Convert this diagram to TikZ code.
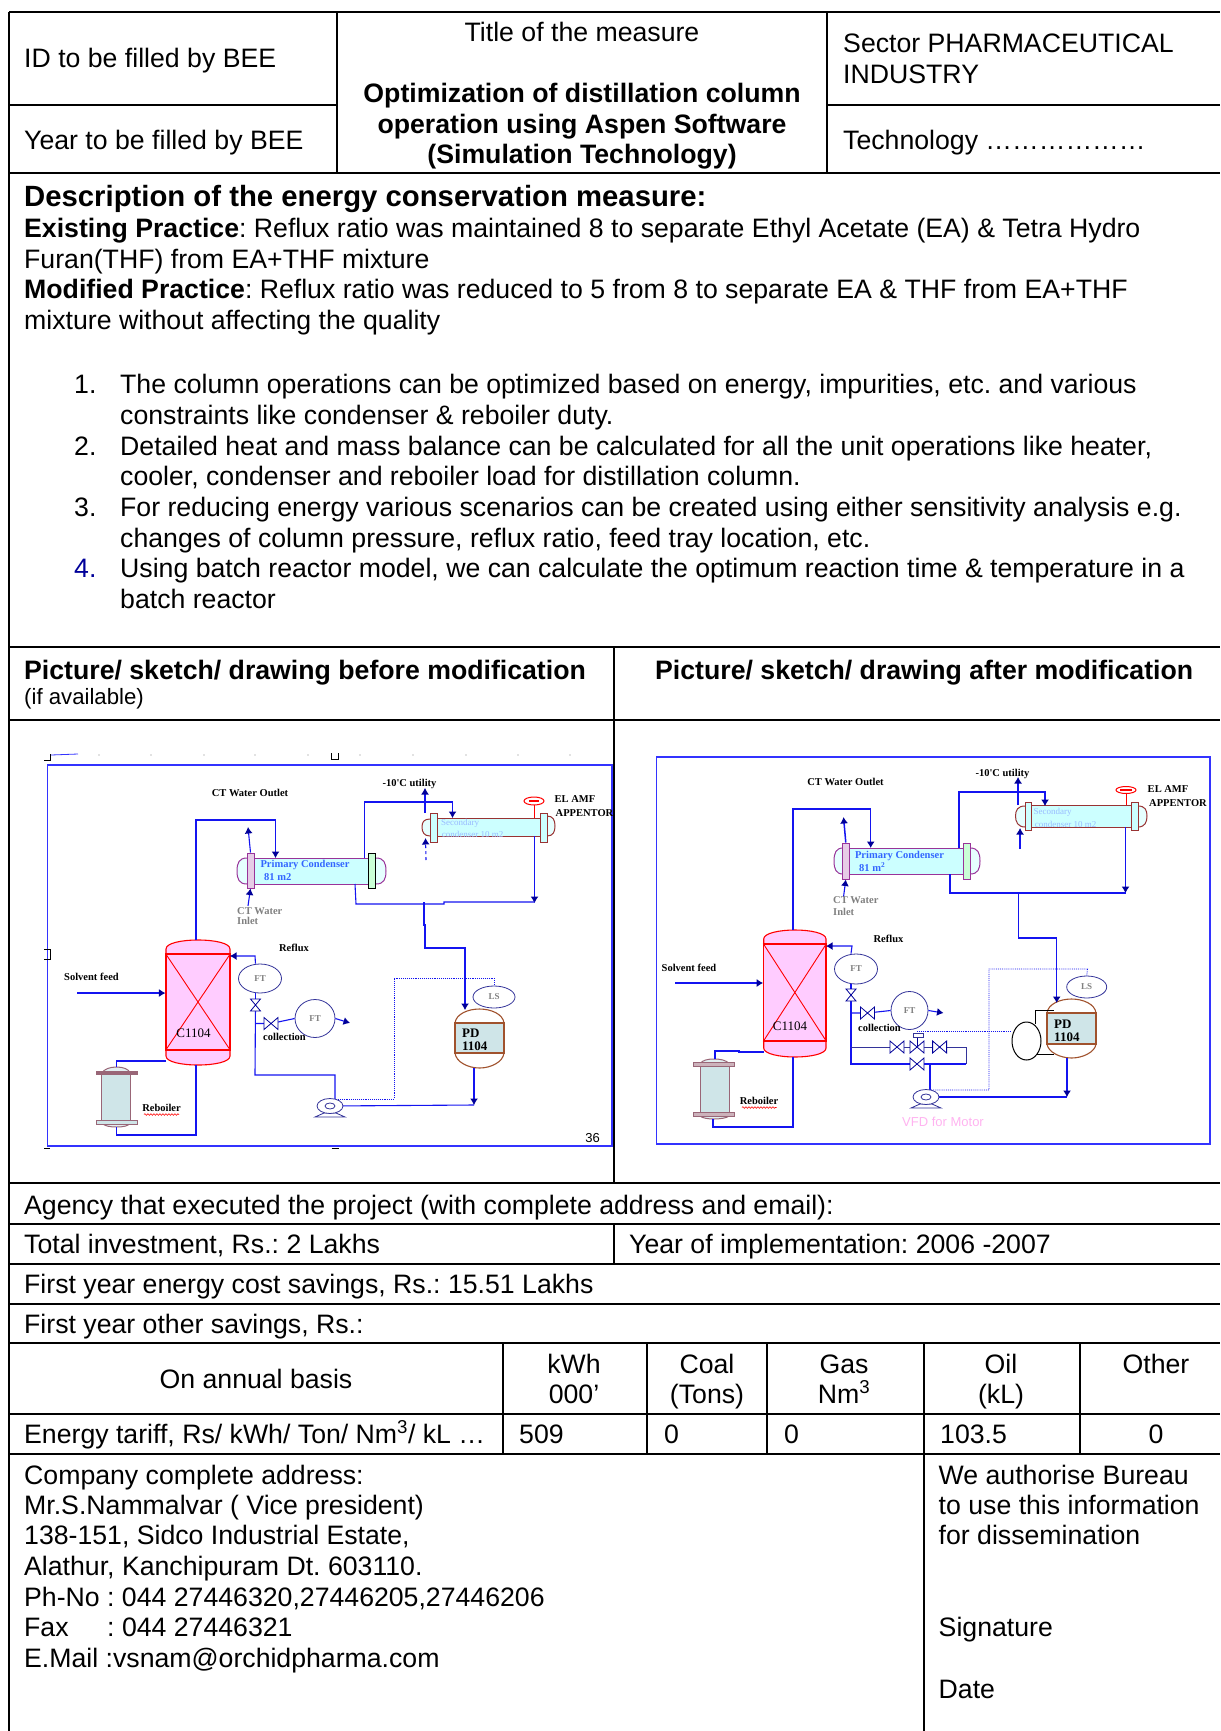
\documentclass[tikz,border=0pt]{standalone}
\usepackage{fontspec}
\usepackage{xcolor}
\usetikzlibrary{arrows.meta,shapes.geometric,decorations.pathmorphing}
\setmainfont{Liberation Sans}
\newfontfamily\skfont{Liberation Serif}

\definecolor{frameblue}{HTML}{3333FF}
\definecolor{pipeblue}{HTML}{1414F0}
\definecolor{tipnavy}{HTML}{000099}
\definecolor{linenavy}{HTML}{333399}
\definecolor{colpink}{HTML}{FFCCFF}
\definecolor{cndcyan}{HTML}{CCFFFF}
\definecolor{cndpurple}{HTML}{993399}
\definecolor{cndred}{HTML}{993333}
\definecolor{drumfill}{HTML}{CFE5E8}
\definecolor{drumbrown}{HTML}{A0522D}
\definecolor{rebmauve}{HTML}{996677}
\definecolor{labelblue}{HTML}{3366FF}
\definecolor{labelpale}{HTML}{99BBFF}
\definecolor{vfdpink}{HTML}{FFB3F0}

\tikzset{
  gridline/.style={line width=1.8pt,black},
  cellt/.style={font=\fontsize{26.67}{30.67}\selectfont\frenchspacing,inner sep=0pt,anchor=base west},
  cellc/.style={cellt,anchor=base},
  cellb/.style={cellt,font=\fontsize{26.67}{30.67}\selectfont\bfseries\frenchspacing},
  cellbc/.style={cellb,anchor=base},
  sktxt/.style={font=\skfont\bfseries\fontsize{10.5}{12}\selectfont,inner sep=0pt},
  skgrey/.style={sktxt,text=gray},
  skframe/.style={draw=frameblue,line width=1.2pt},
  pipe/.style={draw=pipeblue,line width=1.1pt},
  pipearrow/.style={pipe,-{Latex[length=6.5pt,width=8pt,color=tipnavy]}},
  dotline/.style={draw=pipeblue,line width=0.9pt,densely dotted},
  colwall/.style={draw=red,line width=1.1pt,fill=colpink},
  colbody/.style={rectangle,colwall,inner sep=0pt,minimum width=64pt},
  drumwall/.style={draw=drumbrown,line width=1.1pt,fill=white},
  drumbody/.style={rectangle,draw=drumbrown,line width=1.1pt,fill=drumfill,inner sep=0pt,minimum width=49pt},
  instr/.style={ellipse,draw=linenavy,line width=0.8pt,fill=white,inner sep=0pt,font=\skfont\bfseries\fontsize{9}{10}\selectfont,text=gray},
  valveline/.style={draw=tipnavy,line width=0.8pt,fill=white},
  valveh/.pic={\draw[valveline] (-7,-6) -- (7,6) -- (7,-6) -- (-7,6) -- cycle;},
  valvev/.pic={\draw[valveline] (-5,-6) -- (5,-6) -- (-5,6) -- (5,6) -- cycle;},
  skpump/.pic={
    \draw[draw=linenavy,line width=0.8pt,fill=white] (-6,7) -- (-15,11) -- (15,11) -- (6,7) -- cycle;
    \draw[draw=linenavy,line width=0.8pt,fill=white] (0,0) ellipse (13pt and 7.5pt);
    \draw[draw=linenavy,line width=0.8pt] (0,0) ellipse (5pt and 3pt);
  }
}

\begin{document}
\begin{tikzpicture}[x=1pt,y=-1pt]
\useasboundingbox (0,0) rectangle (1220,1731);

% Form grid
\draw[gridline] (9,12) -- (1220,12);
\draw[gridline] (9,105) -- (337,105);
\draw[gridline] (827,105) -- (1220,105);
\draw[gridline] (9,173) -- (1220,173);
\draw[gridline] (9,647) -- (1220,647);
\draw[gridline] (9,720) -- (1220,720);
\draw[gridline] (9,1183) -- (1220,1183);
\draw[gridline] (9,1224) -- (1220,1224);
\draw[gridline] (9,1264) -- (1220,1264);
\draw[gridline] (9,1304) -- (1220,1304);
\draw[gridline] (9,1343) -- (1220,1343);
\draw[gridline] (9,1414) -- (1220,1414);
\draw[gridline] (9,1454) -- (1220,1454);
\draw[gridline] (9,12) -- (9,1731);
\draw[gridline] (337,12) -- (337,173);
\draw[gridline] (827,12) -- (827,173);
\draw[gridline] (614,647) -- (614,1183);
\draw[gridline] (614,1224) -- (614,1264);
\draw[gridline] (503,1343) -- (503,1454);
\draw[gridline] (647,1343) -- (647,1454);
\draw[gridline] (767,1343) -- (767,1454);
\draw[gridline] (924,1343) -- (924,1731);
\draw[gridline] (1080,1343) -- (1080,1454);

% Header cells
\node[cellt] (idcell) at (24,68) {ID to be filled by BEE};
\node[cellt] (yearcell) at (24,150) {Year to be filled by BEE};
\node[cellc] (titlehead) at (582,42) {Title of the measure};
\node[cellbc] (titlea) at (582,103) {Optimization of distillation column};
\node[cellbc] (titleb) at (582,134) {operation using Aspen Software};
\node[cellbc] (titlec) at (582,164) {(Simulation Technology)};
\node[cellt] (sectora) at (843,53) {Sector PHARMACEUTICAL};
\node[cellt] (sectorb) at (843,84) {INDUSTRY};
\node[cellt] (techcell) at (843,150) {Technology ………………};

% Description
\node[cellb,font=\fontsize{29.3}{33}\selectfont\bfseries] (deschead) at (24,207) {Description of the energy conservation measure:};
\node[cellt] (exista) at (24,237) {\textbf{Existing Practice}: Reflux ratio was maintained 8 to separate Ethyl Acetate (EA) \& Tetra Hydro};
\node[cellt] (existb) at (24,268) {Furan(THF) from EA+THF mixture};
\node[cellt] (moda) at (24,298) {\textbf{Modified Practice}: Reflux ratio was reduced to 5 from 8 to separate EA \& THF from EA+THF};
\node[cellt] (modb) at (24,329) {mixture without affecting the quality};

% Numbered list
\node[cellt] (numa) at (74,393) {1.};
\node[cellt] (itema) at (120,393) {The column operations can be optimized based on energy, impurities, etc. and various};
\node[cellt] (itemab) at (120,424) {constraints like condenser \& reboiler duty.};
\node[cellt] (numb) at (74,455) {2.};
\node[cellt] (itemb) at (120,455) {Detailed heat and mass balance can be calculated for all the unit operations like heater,};
\node[cellt] (itembb) at (120,485.5) {cooler, condenser and reboiler load for distillation column.};
\node[cellt] (numc) at (74,516) {3.};
\node[cellt] (itemc) at (120,516) {For reducing energy various scenarios can be created using either sensitivity analysis e.g.};
\node[cellt] (itemcb) at (120,547) {changes of column pressure, reflux ratio, feed tray location, etc.};
\node[cellt,text=tipnavy] (numd) at (74,577) {4.};
\node[cellt] (itemd) at (120,577) {Using batch reactor model, we can calculate the optimum reaction time \& temperature in a};
\node[cellt] (itemdb) at (120,608) {batch reactor};

% Sketch headers
\node[cellb] (beforehead) at (24,679) {Picture/ sketch/ drawing before modification};
\node[cellt,font=\fontsize{22.2}{25}\selectfont] (ifavail) at (24,704) {(if available)};
\node[cellb] (afterhead) at (655,679) {Picture/ sketch/ drawing after modification};

% Left sketch: frame and handles
\draw[skframe] (47.5,765) rectangle (612,1146);
\draw[black,line width=1pt] (44,760) -- (50,760) -- (50,754);
\draw[black,line width=1pt] (331.5,753) -- (331.5,759.5) -- (338.5,759.5) -- (338.5,753);
\draw[black,line width=1pt] (44,949) -- (50,949) -- (50,959) -- (44,959);
\draw[black,line width=1pt] (44,1148) -- (50,1148);
\draw[black,line width=1pt] (331.5,1148) -- (338.5,1148);
\draw[frameblue,line width=0.8pt] (51,755) -- (78,754);
\fill[gray] (99,755) circle (.7) (151,755) circle (.7) (204,755) circle (.7) (255,755) circle (.7) (308,755) circle (.7) (360,755) circle (.7) (413,755) circle (.7) (466,755) circle (.7) (518,755) circle (.7) (570,755) circle (.7);

% Left sketch: column
\draw[colwall] (166,954) -- (166,949) .. controls (166,943) and (182,940) .. (198,940) .. controls (214,940) and (230,943) .. (230,949) -- (230,954) -- cycle;
\draw[colwall] (166,1050) -- (166,1056) .. controls (166,1062) and (182,1065) .. (198,1065) .. controls (214,1065) and (230,1062) .. (230,1056) -- (230,1050) -- cycle;
\node[colbody,minimum height=96pt] (columna) at (198,1002) {};
\draw[red,line width=0.9pt] (columna.north west) -- (columna.south east);
\draw[red,line width=0.9pt] (columna.north east) -- (columna.south west);
\node[font=\skfont\fontsize{13}{16}\selectfont,inner sep=0pt] (columnalbl) at (193.5,1033) {C1104};

% Left sketch: primary condenser
\draw[draw=cndpurple,line width=1pt,fill=cndcyan!50] (247,858) .. controls (239,858) and (237,863) .. (237,871) .. controls (237,879) and (239,884) .. (247,884);
\draw[draw=cndpurple,line width=1pt,fill=cndcyan!50] (376,858) .. controls (384,858) and (386,863) .. (386,871) .. controls (386,879) and (384,884) .. (376,884);
\node[rectangle,draw=cndpurple,line width=1pt,fill=cndcyan,inner sep=0pt,minimum width=118pt,minimum height=26pt] (primarya) at (311,871) {};
\node[rectangle,draw=cndpurple,line width=1pt,fill=cndpurple!25,inner sep=0pt,minimum width=7pt,minimum height=35pt] (prflanga) at (250.5,870.5) {};
\node[rectangle,draw=black,line width=1pt,fill=cndcyan!60!green!40,inner sep=0pt,minimum width=7pt,minimum height=35pt] (prflangb) at (372,870.5) {};
\node[sktxt,text=labelblue] (primlbla) at (305,865) {Primary Condenser};
\node[sktxt,text=labelblue,anchor=west] (primlblb) at (264,877) {81 m2};

% Left sketch: secondary condenser
\draw[draw=cndred,line width=1pt,fill=cndcyan!50] (430,819) .. controls (424,819) and (422,822) .. (422,827) .. controls (422,832) and (424,836) .. (430,836);
\draw[draw=cndred,line width=1pt,fill=cndcyan!50] (547,816) .. controls (553,816) and (555,820) .. (555,826) .. controls (555,832) and (553,836) .. (547,836);
\node[rectangle,draw=cndred,line width=1pt,fill=cndcyan,inner sep=0pt,minimum width=105pt,minimum height=18pt] (seconda) at (489,827) {};
\node[rectangle,draw=cndred,line width=1pt,fill=cndcyan,inner sep=0pt,minimum width=7pt,minimum height=29pt] (seflanga) at (434,827.5) {};
\node[rectangle,draw=cndred,line width=1pt,fill=cndcyan,inner sep=0pt,minimum width=7pt,minimum height=29pt] (seflangb) at (543.5,827.5) {};
\node[sktxt,text=labelpale,font=\skfont\fontsize{9}{10}\selectfont] (seclbla) at (460,823) {Secondary};
\node[sktxt,text=labelpale,font=\skfont\fontsize{9}{10}\selectfont] (seclblb) at (472.5,834) {condenser 10 m2};
\draw[red,line width=1pt] (534,803) -- (534,818);
\node[ellipse,draw=red,line width=1pt,fill=white,inner sep=0pt,minimum width=20pt,minimum height=8pt] (ventva) at (534,801) {};
\draw[red,line width=1.5pt] (529,801) -- (539,801);

% Left sketch: reflux drum
\draw[drumwall] (455,1023) .. controls (456,1014) and (468,1009) .. (479.5,1009) .. controls (491,1009) and (503,1014) .. (504,1023) -- cycle;
\draw[drumwall] (455,1053) .. controls (456,1062) and (468,1068) .. (479.5,1068) .. controls (491,1068) and (503,1062) .. (504,1053) -- cycle;
\node[drumbody,minimum height=30pt] (druma) at (479.5,1038) {};
\node[font=\skfont\bfseries\fontsize{13}{15}\selectfont,inner sep=0pt,anchor=west] (drumlbla) at (462,1033) {PD};
\node[font=\skfont\bfseries\fontsize{13}{15}\selectfont,inner sep=0pt,anchor=west] (drumlblb) at (462,1046) {1104};

% Left sketch: reboiler
\draw[draw=rebmauve,line width=1pt,fill=drumfill!60] (102,1073) .. controls (104,1069) and (110,1067) .. (116.5,1067) .. controls (123,1067) and (129,1069) .. (130,1073) -- cycle;
\draw[draw=rebmauve,line width=1pt,fill=drumfill!60] (102,1123) .. controls (104,1126) and (110,1127) .. (116.5,1127) .. controls (123,1127) and (129,1126) .. (130,1123) -- cycle;
\node[rectangle,draw=rebmauve,line width=1pt,fill=drumfill,inner sep=0pt,minimum width=29pt,minimum height=49pt] (reboilera) at (116,1097.5) {};
\node[rectangle,draw=rebmauve,line width=1pt,fill=rebmauve,inner sep=0pt,minimum width=41pt,minimum height=2.5pt] (rebflanga) at (116.5,1073) {};
\node[rectangle,draw=rebmauve,line width=1pt,fill=drumfill,inner sep=0pt,minimum width=41pt,minimum height=4pt] (rebflangb) at (116.5,1122) {};
\node[sktxt] (reblbla) at (161.5,1108) {Reboiler};
\draw[red,line width=0.6pt,decorate,decoration={snake,amplitude=.8pt,segment length=3pt}] (144,1114.5) -- (179,1114.5);

% Left sketch: instruments and pump
\node[instr,minimum width=43pt,minimum height=29pt] (ftaa) at (260,978.5) {FT};
\node[instr,minimum width=40pt,minimum height=38pt] (ftab) at (315,1018.5) {FT};
\node[instr,minimum width=42pt,minimum height=22pt] (lsa) at (494,997) {LS};
\coordinate (pumpa) at (330,1106);
\coordinate (valveaa) at (255.5,1005);
\coordinate (valveab) at (271,1023.5);
\coordinate (feeda) at (77,993);
\coordinate (outa) at (350,1023);
\coordinate (ctouta) at (248,827);
\coordinate (ctina) at (248,906);
\coordinate (utouta) at (425,788);
\coordinate (utina) at (426,860);

% Left sketch: pipes
\draw[pipearrow] (196,940) -- (196,820) -- (275.5,820) -- (275.5,858);
\draw[pipearrow] (prflanga.north) -- (ctouta);
\draw[pipearrow] (ctina) -- (prflanga.south);
\draw[pipearrow] (364.5,858) -- (364.5,802) -- (452.5,802) -- (452.5,818);
\draw[pipearrow] (425,813) -- (utouta);
\draw[pipearrow,dashed] (utina) -- (425.5,838);
\draw[pipearrow] (534.5,836) -- (534.5,903);
\draw[pipe] (534.5,902) -- (444,902) -- (444,904) -- (356,904) -- (355,884);
\draw[pipearrow] (424,902) -- (424,925) -- (425,925) -- (425,948) -- (465,948) -- (465,1010);
\draw[pipearrow] (feeda) -- (columna.west |- feeda);
\draw[pipe] (166,1061) -- (116.5,1061) -- (116.5,1067);
\draw[pipe] (196,1065) -- (196,1135) -- (116.5,1135) -- (116.5,1127);
\draw[pipearrow] (ftaa.north -| valveaa) -- (255,956) -- (230,956);
\draw[pipe] (ftaa.south -| valveaa) -- (valveaa);
\draw[pipe] (valveaa) -- (255,1075) -- (335,1075) -- (335,1099);
\draw[pipe] (255,1023.5) -- (valveab) -- (ftab.west);
\draw[pipearrow] (ftab.east) -- (outa);
\draw[pipe] (pumpa) -- (474,1105);
\draw[pipearrow] (474,1068) -- (474,1105);
\draw[dotline] (336,1099) -- (394,1099) -- (394,978) -- (494,978) -- (lsa.north);
\pic at (valveaa) {valvev};
\pic at (valveab) {valveh};
\pic at (pumpa) {skpump};

% Left sketch: labels
\node[sktxt] (ctoutlbla) at (250,793) {CT Water Outlet};
\node[sktxt] (utillbla) at (409.5,784) {-10'C utility};
\node[sktxt] (amflbla) at (575,799) {EL AMF};
\node[sktxt] (applbla) at (584.5,813) {APPENTOR};
\node[skgrey,anchor=west] (ctinlbla) at (237,911) {CT Water};
\node[skgrey,anchor=west] (ctinlblb) at (237,921) {Inlet};
\node[sktxt] (reflbla) at (294,948) {Reflux};
\node[sktxt] (feedlbla) at (91.5,977) {Solvent feed};
\node[sktxt] (collbla) at (284.5,1037) {collection};
\node[font=\fontsize{13}{15}\selectfont,inner sep=0pt] (pagenum) at (592.5,1138) {36};

% Right sketch: frame
\draw[skframe] (656.7,757) rectangle (1210,1144);

% Right sketch: column
\draw[colwall] (763.7,944) -- (763.7,939) .. controls (763.7,933) and (780,930) .. (795,930) .. controls (810,930) and (826,933) .. (826,939) -- (826,944) -- cycle;
\draw[colwall] (763.7,1041) -- (763.7,1048) .. controls (763.7,1054) and (780,1057) .. (795,1057) .. controls (810,1057) and (826,1054) .. (826,1048) -- (826,1041) -- cycle;
\node[colbody,minimum width=62.3pt,minimum height=97pt] (columnb) at (794.85,992.5) {};
\draw[red,line width=0.9pt] (columnb.north west) -- (columnb.south east);
\draw[red,line width=0.9pt] (columnb.north east) -- (columnb.south west);
\node[font=\skfont\fontsize{13}{16}\selectfont,inner sep=0pt] (columnblbl) at (790,1026) {C1104};

% Right sketch: primary condenser
\draw[draw=cndpurple,line width=1pt,fill=cndcyan!50] (843,848) .. controls (836,848) and (834,853) .. (834,861) .. controls (834,869) and (836,874) .. (843,874);
\draw[draw=cndpurple,line width=1pt,fill=cndcyan!50] (970,848) .. controls (978,848) and (980,853) .. (980,861) .. controls (980,869) and (978,874) .. (970,874);
\node[rectangle,draw=cndpurple,line width=1pt,fill=cndcyan,inner sep=0pt,minimum width=115pt,minimum height=26pt] (primaryb) at (906.5,861) {};
\node[rectangle,draw=cndpurple,line width=1pt,fill=cndpurple!25,inner sep=0pt,minimum width=6.5pt,minimum height=36pt] (prflangc) at (845.8,861) {};
\node[rectangle,draw=cndpurple,line width=1pt,fill=cndcyan!60!green!40,inner sep=0pt,minimum width=7pt,minimum height=36pt] (prflangd) at (966.5,861) {};
\node[sktxt,text=labelblue] (primlblc) at (899.5,856) {Primary Condenser};
\node[sktxt,text=labelblue,anchor=west] (primlbld) at (859,867) {81 m\textsuperscript{2}};

% Right sketch: secondary condenser
\draw[draw=cndred,line width=1pt,fill=cndcyan!50] (1025,806) .. controls (1018,806) and (1015.5,810) .. (1015.5,816) .. controls (1015.5,822) and (1018,827) .. (1025,827);
\draw[draw=cndred,line width=1pt,fill=cndcyan!50] (1138,806) .. controls (1145,806) and (1147,810) .. (1147,816) .. controls (1147,822) and (1145,827) .. (1138,827);
\node[rectangle,draw=cndred,line width=1pt,fill=cndcyan,inner sep=0pt,minimum width=102pt,minimum height=22pt] (secondb) at (1081,816) {};
\node[rectangle,draw=cndred,line width=1pt,fill=cndcyan,inner sep=0pt,minimum width=6pt,minimum height=28pt] (seflangc) at (1028,816) {};
\node[rectangle,draw=cndred,line width=1pt,fill=cndcyan,inner sep=0pt,minimum width=7pt,minimum height=28pt] (seflangd) at (1134.5,816) {};
\node[sktxt,text=labelpale,font=\skfont\fontsize{9}{10}\selectfont] (seclblc) at (1052.5,812) {Secondary};
\node[sktxt,text=labelpale,font=\skfont\fontsize{9}{10}\selectfont] (seclbld) at (1065.5,824) {condenser 10 m2};
\draw[red,line width=1pt] (1126,792) -- (1126,805);
\node[ellipse,draw=red,line width=1pt,fill=white,inner sep=0pt,minimum width=20pt,minimum height=7pt] (ventvb) at (1126,790) {};
\draw[red,line width=2.5pt] (1120,790) -- (1132,790);

% Right sketch: reflux drum and level vessel
\draw[drumwall] (1047,1013) .. controls (1048,1004) and (1060,999) .. (1071.5,999) .. controls (1083,999) and (1095,1004) .. (1096,1013) -- cycle;
\draw[drumwall] (1047,1044) .. controls (1048,1052) and (1060,1058) .. (1071.5,1058) .. controls (1083,1058) and (1095,1052) .. (1096,1044) -- cycle;
\node[drumbody,minimum height=31pt] (drumb) at (1071.5,1028.5) {};
\node[font=\skfont\bfseries\fontsize{13}{15}\selectfont,inner sep=0pt,anchor=west] (drumlblc) at (1054,1024) {PD};
\node[font=\skfont\bfseries\fontsize{13}{15}\selectfont,inner sep=0pt,anchor=west] (drumlbld) at (1054,1037) {1104};
\node[ellipse,draw=black,line width=1pt,fill=white,inner sep=0pt,minimum width=29pt,minimum height=38pt] (balloon) at (1026.5,1041) {};
\draw[black,line width=1pt] (1035,1024) -- (1035,1010) -- (1053.5,1010);
\draw[black,line width=1pt] (1036,1054) -- (1053.5,1054);

% Right sketch: reboiler
\draw[draw=rebmauve,line width=1pt,fill=drumfill!60] (700,1064) .. controls (702,1060) and (708,1059) .. (714,1059) .. controls (720,1059) and (727,1060) .. (729,1064) -- cycle;
\draw[draw=rebmauve,line width=1pt,fill=drumfill!60] (700,1116) .. controls (702,1118) and (708,1119) .. (714,1119) .. controls (720,1119) and (727,1118) .. (729,1116) -- cycle;
\node[rectangle,draw=rebmauve,line width=1pt,fill=drumfill,inner sep=0pt,minimum width=29pt,minimum height=52pt] (reboilerb) at (714.5,1090) {};
\node[rectangle,draw=rebmauve,line width=1pt,fill=rebmauve!50,inner sep=0pt,minimum width=41pt,minimum height=3.5pt] (rebflangc) at (713.5,1064.5) {};
\node[rectangle,draw=rebmauve,line width=1pt,fill=rebmauve!50,inner sep=0pt,minimum width=41pt,minimum height=3.5pt] (rebflangd) at (713.5,1114.5) {};
\node[sktxt] (reblblb) at (759,1101) {Reboiler};
\draw[red,line width=0.6pt,decorate,decoration={snake,amplitude=.8pt,segment length=3pt}] (742,1107.5) -- (776.5,1107.5);

% Right sketch: instruments and pump
\node[instr,minimum width=43pt,minimum height=30pt] (ftba) at (856,969) {FT};
\node[instr,minimum width=37pt,minimum height=38pt] (ftbb) at (909.5,1010.5) {FT};
\node[instr,minimum width=40pt,minimum height=22pt] (lsb) at (1086.7,987) {LS};
\coordinate (pumpb) at (926,1097);
\coordinate (valveba) at (851,995);
\coordinate (valvebb) at (867.5,1013);
\coordinate (valvebc) at (897,1047);
\coordinate (valvebd) at (917,1047);
\coordinate (valvebe) at (939.6,1047);
\coordinate (valvebf) at (917,1064);
\coordinate (feedb) at (675,983);
\coordinate (outb) at (943.5,1013);
\coordinate (ctoutb) at (843.5,817);
\coordinate (ctinb) at (843.5,897);
\coordinate (utoutb) at (1018,777);
\coordinate (utinb) at (1020,849);

% Right sketch: pipes
\draw[pipearrow] (793,930) -- (793,809) -- (870.7,809) -- (870.7,848);
\draw[pipearrow,line width=1.5pt] (prflangc.north) -- (ctoutb);
\draw[pipearrow] (ctinb) -- (prflangc.south);
\draw[pipearrow] (959,848) -- (959,792) -- (1045,792) -- (1045,806);
\draw[pipearrow] (1018,805) -- (utoutb);
\draw[pipearrow] (utinb) -- (1020,828);
\draw[pipearrow] (1125.5,827) -- (1125.5,893);
\draw[pipe] (1125.5,893) -- (950,893) -- (950,874);
\draw[pipearrow] (1018.5,893) -- (1018.5,938) -- (1056.7,938) -- (1056.7,1003);
\draw[pipearrow] (feedb) -- (columnb.west |- feedb);
\draw[pipe] (763.7,1052) -- (739,1052) -- (739,1051) -- (715,1051) -- (715,1059);
\draw[pipe] (793,1057) -- (793,1127) -- (713,1127) -- (713,1119);
\draw[pipearrow] (ftba.north -| valveba) -- (852,946) -- (826,946);
\draw[pipe] (ftba.south -| valveba) -- (valveba);
\draw[pipe] (valveba) -- (851,1064) -- (966,1064);
\draw[linenavy,line width=1pt] (966,1064) -- (966,1047) -- (851,1047);
\draw[pipe] (930,1064) -- (930,1090);
\draw[pipe] (851,1013) -- (valvebb) -- (ftbb.west);
\draw[pipearrow] (ftbb.east) -- (outb);
\draw[pipe] (pumpb) -- (1067,1097);
\draw[pipearrow] (1067,1058) -- (1067,1097);
\draw[dotline] (931,1090) -- (989,1090) -- (989,969) -- (1087.5,969) -- (lsb.north);
\draw[dotline] (917,1031) -- (balloon.west |- 917,1031);
\draw[tipnavy,line width=0.8pt] (917,1037) -- (valvebd);
\pic at (valveba) {valvev};
\pic at (valvebb) {valveh};
\pic at (valvebc) {valveh};
\pic at (valvebd) {valveh};
\pic at (valvebe) {valveh};
\pic at (valvebf) {valveh};
\pic at (pumpb) {skpump};
\node[rectangle,draw=linenavy,line width=0.8pt,fill=white,inner sep=0pt,minimum width=10pt,minimum height=4pt] (actuator) at (918,1035) {};

% Right sketch: labels
\node[sktxt] (ctoutlblb) at (845.5,782) {CT Water Outlet};
\node[sktxt] (utillblb) at (1002.5,774) {-10'C utility};
\node[sktxt] (amflblb) at (1168,789) {EL AMF};
\node[sktxt] (applblb) at (1178,803) {APPENTOR};
\node[skgrey,anchor=west] (ctinlblc) at (833,900) {CT Water};
\node[skgrey,anchor=west] (ctinlbld) at (833,912) {Inlet};
\node[sktxt] (reflblb) at (888.5,939) {Reflux};
\node[sktxt] (feedlblb) at (689,968) {Solvent feed};
\node[sktxt] (collblb) at (879.5,1028) {collection};
\node[font=\fontsize{13}{15}\selectfont,inner sep=0pt,text=vfdpink] (vfdlbl) at (943,1122) {VFD for Motor};

% Project data
\node[cellt] (agency) at (24,1214) {Agency that executed the project (with complete address and email):};
\node[cellt] (invest) at (24,1253) {Total investment, Rs.: 2 Lakhs};
\node[cellt] (implyear) at (629,1253) {Year of implementation: 2006 -2007};
\node[cellt] (energysav) at (24,1293) {First year energy cost savings, Rs.: 15.51 Lakhs};
\node[cellt] (othersav) at (24,1333) {First year other savings, Rs.:};

% Annual basis table
\node[cellc] (annual) at (256,1388) {On annual basis};
\node[cellc] (kwha) at (574,1373) {kWh};
\node[cellc] (kwhb) at (574,1403) {000’};
\node[cellc] (coala) at (707,1373) {Coal};
\node[cellc] (coalb) at (707,1403) {(Tons)};
\node[cellc] (gasa) at (844,1373) {Gas};
\node[cellc] (gasb) at (844,1403) {Nm\textsuperscript{3}};
\node[cellc] (oila) at (1001,1373) {Oil};
\node[cellc] (oilb) at (1001,1403) {(kL)};
\node[cellc] (othera) at (1156,1373) {Other};
\node[cellt] (tariff) at (24,1443) {Energy tariff, Rs/ kWh/ Ton/ Nm\textsuperscript{3}/ kL …};
\node[cellt] (valkwh) at (519,1443) {509};
\node[cellt] (valcoal) at (664,1443) {0};
\node[cellt] (valgas) at (784,1443) {0};
\node[cellt] (valoil) at (940,1443) {103.5};
\node[cellc] (valother) at (1156,1443) {0};

% Address and signature
\node[cellt] (addra) at (24,1484) {Company complete address:};
\node[cellt] (addrb) at (24,1514) {Mr.S.Nammalvar ( Vice president)};
\node[cellt] (addrc) at (24,1544) {138-151, Sidco Industrial Estate,};
\node[cellt] (addrd) at (24,1575) {Alathur, Kanchipuram Dt. 603110.};
\node[cellt] (addre) at (24,1606) {Ph-No : 044 27446320,27446205,27446206};
\node[cellt] (addrf) at (24,1636) {Fax};
\node[cellt] (addrg) at (107,1636) {: 044 27446321};
\node[cellt] (addrh) at (24,1667) {E.Mail :vsnam@orchidpharma.com};
\node[cellt] (autha) at (938.5,1484) {We authorise Bureau};
\node[cellt] (authb) at (938.5,1514) {to use this information};
\node[cellt] (authc) at (938.5,1544) {for dissemination};
\node[cellt] (signlbl) at (938.5,1636) {Signature};
\node[cellt] (datelbl) at (938.5,1698) {Date};
\end{tikzpicture}
\end{document}
